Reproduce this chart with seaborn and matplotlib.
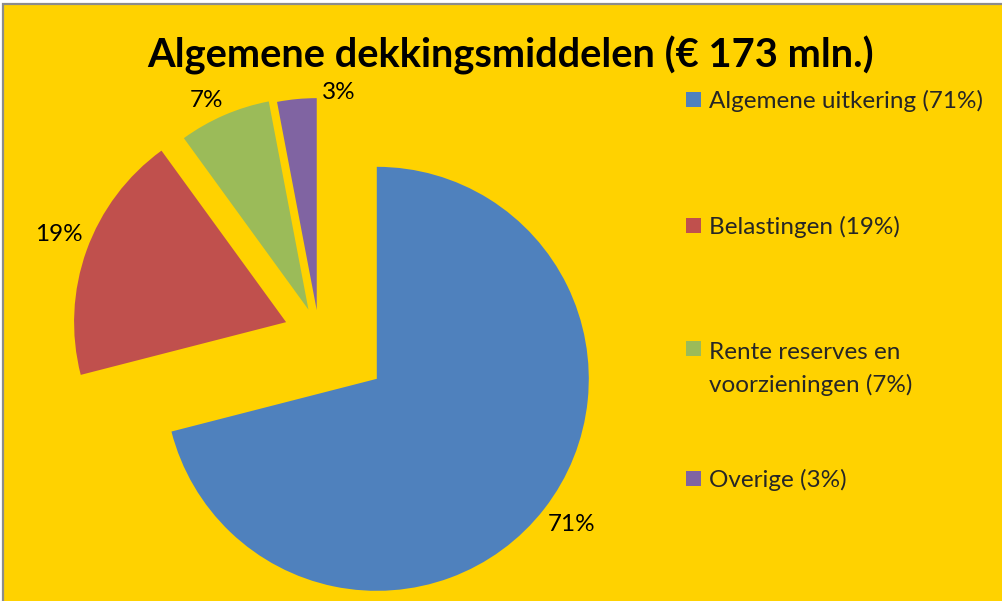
import matplotlib
matplotlib.use("Agg")
import matplotlib.pyplot as plt
from matplotlib.patches import Rectangle
from matplotlib.legend_handler import HandlerPatch
import seaborn as sns

# Dekkingsmiddelen data
categories = ["Algemene uitkering", "Belastingen", "Rente reserves en\nvoorzieningen", "Overige"]
shares = [71, 19, 7, 3]
explode = [0.345, 0.165, 0.125, 0.113]
title = "Algemene dekkingsmiddelen (€ 173 mln.)"

sns.set_style("white")
plt.rcParams["font.family"] = ["Lato", "DejaVu Sans"]

colors = sns.color_palette(["#4F81BD", "#C0504D", "#9BBB59", "#8064A2"])
bg = "#FFD200"

W, H = 1002, 601
fig = plt.figure(figsize=(W / 100, H / 100), dpi=100, facecolor="white")

# Chart area with grey frame (runs past the right/bottom edge)
fig.patches.append(Rectangle((3 / W, -0.05), 1.1, 1 - 4 / H + 0.05,
                             transform=fig.transFigure, facecolor=bg,
                             edgecolor="#8C8C8C", linewidth=1.6, zorder=-5))

# Pie axes: 1 data unit = 212 px, pie centre at pixel (319, 334)
R = 212.0
cx, cy = 319.0, 334.0
xl, xr = -1.5, 1.5
yb, yt = -1.25, 1.25
left_px = cx + xl * R
top_px = cy - yt * R
ax = fig.add_axes([left_px / W, 1 - (top_px + (yt - yb) * R) / H,
                   (xr - xl) * R / W, (yt - yb) * R / H])
ax.set_facecolor("none")
ax.set_zorder(2)

fs = 17.5
wedges, texts, autotexts = ax.pie(
    shares, explode=explode, colors=colors, startangle=90, counterclock=False,
    autopct=lambda p: f"{p:.0f}%", pctdistance=1.13,
    wedgeprops=dict(linewidth=0), textprops=dict(fontsize=fs, color="black"))
ax.set_xlim(xl, xr)
ax.set_ylim(yb, yt)
ax.set_aspect("equal", adjustable="box")
ax.axis("off")

# small nudges of the percentage labels (data units)
label_nudge = [(0.024, 0.005), (-0.01, 0.03), (-0.03, -0.05), (0.21, -0.1)]
for t, (dx, dy) in zip(autotexts, label_nudge):
    x0, y0 = t.get_position()
    t.set_position((x0 + dx, y0 + dy))

fig.text(511 / W, 1 - 55 / H, title, ha="center", va="center",
         fontsize=28.7, fontweight="bold", color="black")

line_sp = 1.6


def top_line_square(legend, orig_handle, xdescent, ydescent, width, height, fontsize):
    # square aligned with the first line of a two-line label
    return Rectangle((-xdescent, -ydescent + 0.5 * line_sp * fontsize + 0.5),
                     width, height)


# one legend entry per slice, evenly spaced down the right-hand side
labels = [f"{c} ({s}%)" for c, s in zip(categories, shares)]
entry_tops = [90, 216, 342, 469]
for w, lab, top in zip(wedges, labels, entry_tops):
    hmap = {w: HandlerPatch(patch_func=top_line_square)} if "\n" in lab else None
    leg = fig.legend([w], [lab], loc="upper left",
                     bbox_to_anchor=(686 / W, 1 - top / H),
                     frameon=False, fontsize=fs, handlelength=0.6, handleheight=0.6,
                     handletextpad=0.35, borderaxespad=0, borderpad=0,
                     handler_map=hmap)
    for t in leg.get_texts():
        t.set_linespacing(line_sp)

fig.savefig("out.png", dpi=100, facecolor="white")
